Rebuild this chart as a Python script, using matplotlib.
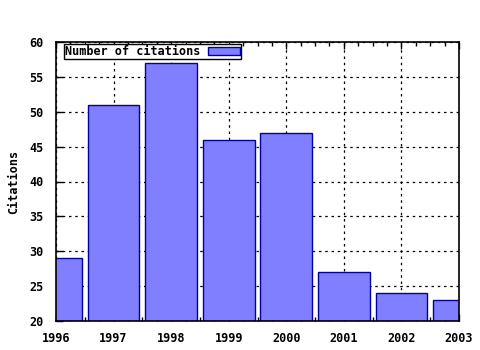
import matplotlib
matplotlib.use("Agg")
import matplotlib.pyplot as plt
from matplotlib.ticker import MultipleLocator

years = [1996, 1997, 1998, 1999, 2000, 2001, 2002, 2003]
citations = [29, 51, 57, 46, 47, 27, 24, 23]
series_label = "Number of citations"
y_label = "Citations"

plt.rcParams['font.family'] = ['DejaVu Sans Mono']
plt.rcParams['font.weight'] = 'bold'

fig = plt.figure(figsize=(4.8, 3.5), dpi=100)
ax = fig.add_axes([56/480, 1 - 321/350, (459-56)/480, (321-42)/350])

ax.bar(years, [c - 20 for c in citations], bottom=20, width=0.9,
       color='#7F7FFF', edgecolor='#0000A0', linewidth=1.0,
       label=series_label, zorder=3)

ax.set_xlim(1996, 2003)
ax.set_ylim(20, 60)
ax.xaxis.set_minor_locator(MultipleLocator(0.25))
ax.yaxis.set_major_locator(MultipleLocator(5))
ax.set_xticks(years)
ax.set_xticklabels([str(y) for y in years], fontsize=8.5, fontweight='bold')
ax.tick_params(axis='y', labelsize=8.5, pad=9)
ax.tick_params(axis='x', pad=8)
ax.tick_params(which='both', direction='in', top=True, right=False, color='black')
ax.tick_params(which='major', length=5, width=1)
ax.tick_params(which='minor', length=3, width=1)
ax.tick_params(axis='y', which='minor', left=False)

ax.grid(True, which='major', linestyle=(0, (2, 3)), color='black', linewidth=0.9, zorder=1)
ax.set_axisbelow(True)
for s in ax.spines.values():
    s.set_linewidth(1.2)
    s.set_zorder(5)

ax.set_ylabel(y_label, fontsize=8.5, fontweight='bold')
ax.yaxis.set_label_coords((20 - 56) / 403, 0.5)

leg = ax.legend(loc='upper left', bbox_to_anchor=(8/403, 1 - 2/279), markerfirst=False,
                frameon=True, fancybox=False, framealpha=1, edgecolor='black',
                fontsize=8.5, borderpad=0.1, handlelength=2.7, handleheight=0.6,
                handletextpad=0.6, borderaxespad=0)
leg.get_frame().set_linewidth(1.0)

fig.savefig("out.png", dpi=100)
